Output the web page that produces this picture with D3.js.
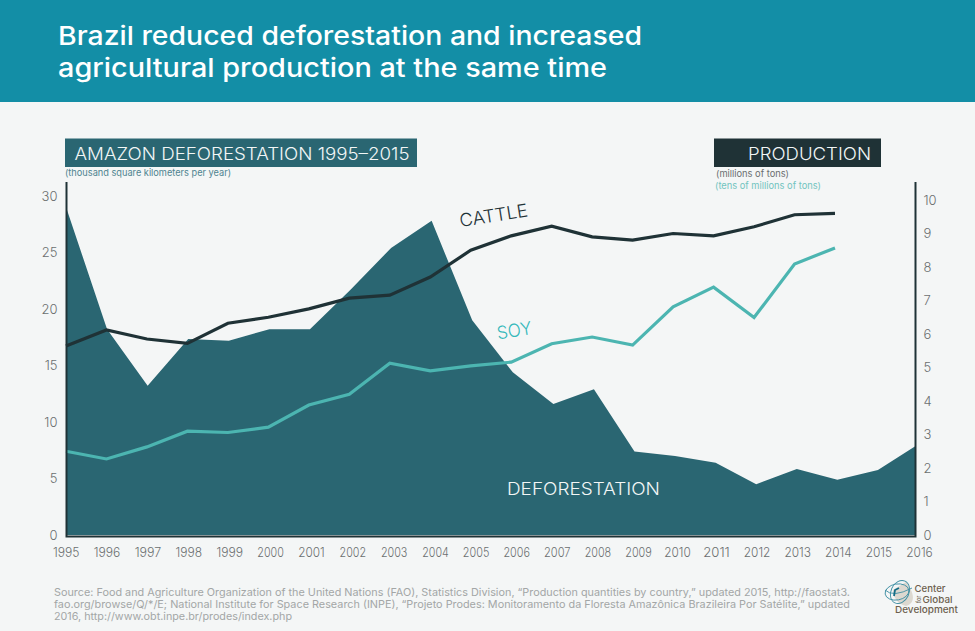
<!DOCTYPE html>
<html><head><meta charset="utf-8">
<script src="https://cdn.jsdelivr.net/npm/d3@7"></script>
<style>
html,body{margin:0;padding:0;background:#f4f6f6;}
svg{display:block;font-family:Inter,"Open Sans",sans-serif;}
</style></head><body>
<svg id="c" width="975" height="631"></svg>
<script>
const years=d3.range(1995,2017);
const deforestation=[28.9,18.2,13.2,17.35,17.2,18.2,18.2,21.7,25.4,27.8,19.0,14.4,11.6,12.9,7.4,7.0,6.4,4.5,5.85,4.9,5.75,8.05];
const cattle=[5.64,6.12,5.85,5.72,6.32,6.5,6.75,7.07,7.16,7.7,8.5,8.93,9.22,8.9,8.8,9.0,8.93,9.2,9.56,9.6];
const soy=[2.5,2.27,2.63,3.1,3.06,3.22,3.88,4.2,5.13,4.9,5.05,5.16,5.71,5.91,5.67,6.81,7.4,6.49,8.09,8.57];
const leftTicks=[0,5,10,15,20,25,30];
const rightTicks=d3.range(0,11);
const titleLines=["Brazil reduced deforestation and increased","agricultural production at the same time"];
const sourceLines=["Source: Food and Agriculture Organization of the United Nations (FAO), Statistics Division, “Production quantities by country,” updated 2015, http://faostat3.",
"fao.org/browse/Q/*/E; National Institute for Space Research (INPE), “Projeto Prodes: Monitoramento da Floresta Amazônica Brazileira Por Satélite,” updated",
"2016, http://www.obt.inpe.br/prodes/index.php"];
const C={head:"#138ea6",area:"#2a6672",dark:"#1f3236",soy:"#4cb5b1",grey:"#6b6f70",src:"#a3a6a6"};

const svg=d3.select("#c");
svg.append("rect").attr("width",975).attr("height",631).attr("fill","#f4f6f6");
svg.append("rect").attr("width",975).attr("height",102).attr("fill",C.head);
svg.selectAll(".t").data(titleLines).join("text").attr("x",58).attr("y",(d,i)=>45+i*32)
 .attr("fill","#fff").attr("font-size",26).attr("font-weight",500).attr("textLength",(d,i)=>i?549:584).attr("lengthAdjust","spacingAndGlyphs").text(d=>d);

// the source artwork places its three layers on slightly different year grids
const xArea=d3.scaleLinear().domain([1995,2016]).range([66.5,918.5]);
const xLine=d3.scaleLinear().domain([1995,2014]).range([66,835]);
const xLabel=d3.scaleLinear().domain([1995,2001,2004,2009,2011,2016]).range([65.7,311,435,638,716,919]);
const yL=d3.scaleLinear().domain([0,30]).range([535,196]);
const yR=d3.scaleLinear().domain([0,10]).range([535,200]);

svg.append("clipPath").attr("id","plot").append("rect").attr("x",66.5).attr("y",182).attr("width",849).attr("height",354);
svg.append("path").datum(deforestation).attr("clip-path","url(#plot)")
 .attr("d",d3.area().x((d,i)=>xArea(years[i])).y0(yL(0)).y1(d=>yL(d))).attr("fill",C.area);

const line=d3.line().x((d,i)=>xLine(years[i])).y(d=>yR(d));
svg.append("path").attr("d",line(soy)).attr("fill","none").attr("stroke",C.soy).attr("stroke-width",3.2);
svg.append("path").attr("d",line(cattle)).attr("fill","none").attr("stroke",C.dark).attr("stroke-width",3.2);

// axes
const gL=svg.append("g").attr("transform","translate(66.5,0)").call(d3.axisLeft(yL).tickValues(leftTicks).tickSize(0).tickPadding(9));
const gR=svg.append("g").attr("transform","translate(915.5,0)").call(d3.axisRight(yR).tickValues(rightTicks).tickSize(0).tickPadding(8));
const gB=svg.append("g").attr("transform","translate(0,536)").call(d3.axisBottom(xLabel).tickValues(years).tickFormat(d3.format("d")).tickSize(0).tickPadding(12));
[gL,gR,gB].forEach(g=>{g.select(".domain").remove();
 g.selectAll("text").attr("fill",C.grey).attr("font-size",13).attr("font-weight",300).attr("font-family","Inter,sans-serif");});
gB.selectAll("text").attr("textLength",26.5).attr("lengthAdjust","spacingAndGlyphs");

// axis frame
svg.append("path").attr("d","M66.5,182V536.5H915.5V182").attr("fill","none").attr("stroke",C.dark).attr("stroke-width",2);

// header boxes
svg.append("rect").attr("x",65).attr("y",138.5).attr("width",352).attr("height",28.5).attr("fill",C.area);
svg.append("text").attr("x",74.5).attr("y",160).attr("fill","#f2f6f6").attr("font-size",17.5).attr("font-weight",300).attr("textLength",335).attr("lengthAdjust","spacingAndGlyphs").text("AMAZON DEFORESTATION 1995–2015");
svg.append("text").attr("x",65).attr("y",176).attr("fill","#4f8490").attr("font-size",9.3).attr("textLength",166).attr("lengthAdjust","spacingAndGlyphs").text("(thousand square kilometers per year)");
svg.append("rect").attr("x",714).attr("y",138.5).attr("width",167).attr("height",28.5).attr("fill",C.dark);
svg.append("text").attr("x",748).attr("y",160).attr("fill","#f2f6f6").attr("font-size",17.5).attr("font-weight",300).attr("textLength",123).attr("lengthAdjust","spacingAndGlyphs").text("PRODUCTION");
svg.append("text").attr("x",716).attr("y",177).attr("fill",C.grey).attr("font-size",9.3).attr("textLength",73).attr("lengthAdjust","spacingAndGlyphs").text("(millions of tons)");
svg.append("text").attr("x",715).attr("y",189).attr("fill","#72c4c0").attr("font-size",9.3).attr("textLength",106).attr("lengthAdjust","spacingAndGlyphs").text("(tens of millions of tons)");

// series labels
svg.append("text").attr("transform","translate(460.5,227) rotate(-9)").attr("fill",C.dark).attr("font-size",18).attr("font-weight",300).attr("textLength",69).attr("lengthAdjust","spacingAndGlyphs").text("CATTLE");
svg.append("text").attr("transform","translate(498,339.5) rotate(-9)").attr("fill","#35b9bb").attr("font-size",18).attr("font-weight",300).attr("textLength",35).attr("lengthAdjust","spacingAndGlyphs").text("SOY");
svg.append("text").attr("x",507).attr("y",494.5).attr("fill","#f2f6f6").attr("font-size",17.5).attr("font-weight",300).attr("textLength",153).attr("lengthAdjust","spacingAndGlyphs").text("DEFORESTATION");

// source
svg.selectAll(".s").data(sourceLines).join("text").attr("x",54).attr("y",(d,i)=>596+i*12)
 .attr("fill",C.src).attr("font-size",10.6).attr("textLength",(d,i)=>[796,796,238][i]).attr("lengthAdjust","spacingAndGlyphs").text(d=>d);

// logo
const L=svg.append("g").attr("fill","none").attr("stroke","#3f8fa3").attr("stroke-width",.9);
L.append("path").attr("d","M906,582 C912,590 918,602 906,606 C897,604 893,596 893,590 Z").attr("fill","#dcd8d0").attr("stroke","none");
L.append("ellipse").attr("cx",897).attr("cy",592).attr("rx",12).attr("ry",8).attr("transform","rotate(-10 897 592)");
L.append("ellipse").attr("cx",900).attr("cy",592).attr("rx",9).attr("ry",12).attr("transform","rotate(25 900 592)");
L.append("path").attr("d","M885,590 Q893,598 912,588");
L.append("path").attr("d","M894,596 L895,590 L899,588").attr("stroke","#136d86").attr("stroke-width",1.8);
const lg=svg.append("g").attr("fill","#6d5f4e").attr("font-family","Inter,sans-serif").attr("font-weight",500);
lg.append("text").attr("x",914.5).attr("y",592).attr("font-size",9.5).attr("textLength",31).attr("lengthAdjust","spacingAndGlyphs").text("Center");
lg.append("text").attr("x",922.5).attr("y",602.5).attr("font-size",9.5).attr("textLength",30).attr("lengthAdjust","spacingAndGlyphs").text("Global");
lg.append("text").attr("x",895).attr("y",612.5).attr("font-size",9.5).attr("textLength",63).attr("lengthAdjust","spacingAndGlyphs").text("Development");
lg.append("text").attr("transform","translate(921,603) rotate(-90)").attr("font-size",5.5).text("for");
</script>
</body></html>
